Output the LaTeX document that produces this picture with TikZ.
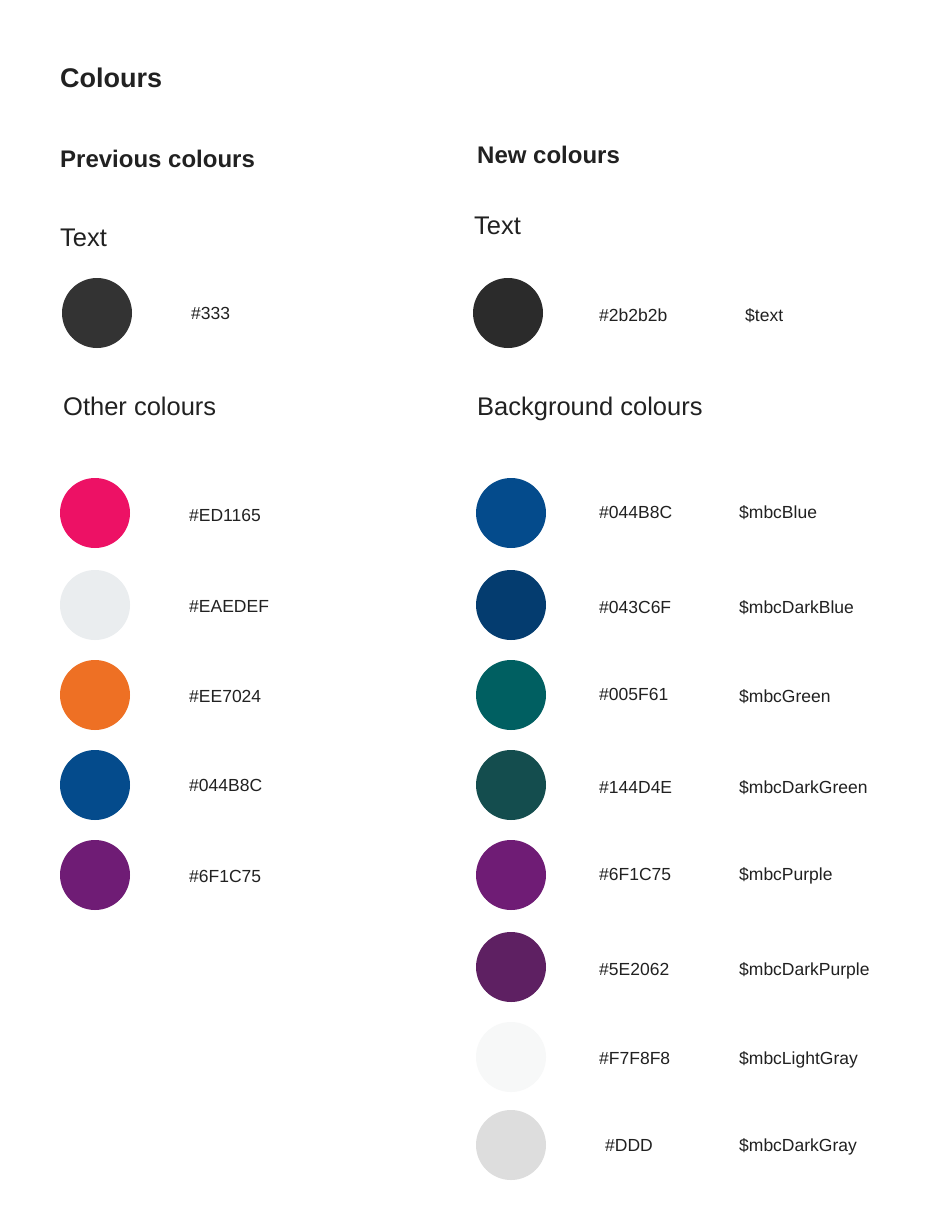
\documentclass[tikz,border=0pt]{standalone}
\usepackage{fontspec}
\setmainfont{Liberation Sans}
\definecolor{ink}{HTML}{212121}
\definecolor{cA}{HTML}{333333}
\definecolor{cB}{HTML}{ED1165}
\definecolor{cC}{HTML}{EAEDEF}
\definecolor{cD}{HTML}{EE7024}
\definecolor{cE}{HTML}{044B8C}
\definecolor{cF}{HTML}{6F1C75}
\definecolor{dA}{HTML}{2B2B2B}
\definecolor{dB}{HTML}{043C6F}
\definecolor{dC}{HTML}{005F61}
\definecolor{dD}{HTML}{144D4E}
\definecolor{dE}{HTML}{5E2062}
\definecolor{dF}{HTML}{F7F8F8}
\definecolor{dG}{HTML}{DDDDDD}
\tikzset{
  swatch/.style={circle, minimum size=70pt, inner sep=0pt, fill=#1, draw=none},
  lbl/.style={anchor=base west, inner sep=0pt, text=ink, font=\fontsize{17.5}{20}\selectfont},
  head/.style={anchor=base west, inner sep=0pt, text=ink, font=\fontsize{25.5}{28}\selectfont},
  bhead/.style={anchor=base west, inner sep=0pt, text=ink, font=\fontsize{24}{28}\selectfont\bfseries},
  title/.style={anchor=base west, inner sep=0pt, text=ink, font=\fontsize{27}{32}\selectfont\bfseries}
}
\begin{document}
\begin{tikzpicture}[x=1pt,y=-1pt]
\useasboundingbox (0,0) rectangle (944,1223);
\fill[white] (0,0) rectangle (944,1223);
% titles
\node[title] (t) at (60,88) {Colours};
\node[bhead] (prev) at (60,167) {Previous colours};
\node[bhead] (new) at (477,163) {New colours};
\node[head] (ltext) at (60,246) {Text};
\node[head] (rtext) at (474,234) {Text};
\node[head] (other) at (63,415) {Other colours};
\node[head] (bg) at (477,415) {Background colours};
% left column
\node[swatch=cA] (l0) at (97,313) {};
\node[lbl] (l0h) at (191,319) {\#333};
\node[swatch=cB] (l1) at (95,513) {};
\node[lbl] (l1h) at (189,521) {\#ED1165};
\node[swatch=cC] (l2) at (95,605) {};
\node[lbl] (l2h) at (189,612) {\#EAEDEF};
\node[swatch=cD] (l3) at (95,695) {};
\node[lbl] (l3h) at (189,702) {\#EE7024};
\node[swatch=cE] (l4) at (95,785) {};
\node[lbl] (l4h) at (189,791) {\#044B8C};
\node[swatch=cF] (l5) at (95,875) {};
\node[lbl] (l5h) at (189,882) {\#6F1C75};
% right column
\node[swatch=dA] (r0) at (508,313) {};
\node[lbl] (r0h) at (599,321) {\#2b2b2b};
\node[lbl] (r0n) at (745,321) {\$text};
\node[swatch=cE] (r1) at (511,513) {};
\node[lbl] (r1h) at (599,518) {\#044B8C};
\node[lbl] (r1n) at (739,518) {\$mbcBlue};
\node[swatch=dB] (r2) at (511,605) {};
\node[lbl] (r2h) at (599,613) {\#043C6F};
\node[lbl] (r2n) at (739,613) {\$mbcDarkBlue};
\node[swatch=dC] (r3) at (511,695) {};
\node[lbl] (r3h) at (599,700) {\#005F61};
\node[lbl] (r3n) at (739,702) {\$mbcGreen};
\node[swatch=dD] (r4) at (511,785) {};
\node[lbl] (r4h) at (599,793) {\#144D4E};
\node[lbl] (r4n) at (739,793) {\$mbcDarkGreen};
\node[swatch=cF] (r5) at (511,875) {};
\node[lbl] (r5h) at (599,880) {\#6F1C75};
\node[lbl] (r5n) at (739,880) {\$mbcPurple};
\node[swatch=dE] (r6) at (511,967) {};
\node[lbl] (r6h) at (599,975) {\#5E2062};
\node[lbl] (r6n) at (739,975) {\$mbcDarkPurple};
\node[swatch=dF] (r7) at (511,1057) {};
\node[lbl] (r7h) at (599,1064) {\#F7F8F8};
\node[lbl] (r7n) at (739,1064) {\$mbcLightGray};
\node[swatch=dG] (r8) at (511,1145) {};
\node[lbl] (r8h) at (605,1151) {\#DDD};
\node[lbl] (r8n) at (739,1151) {\$mbcDarkGray};
\end{tikzpicture}
\end{document}
